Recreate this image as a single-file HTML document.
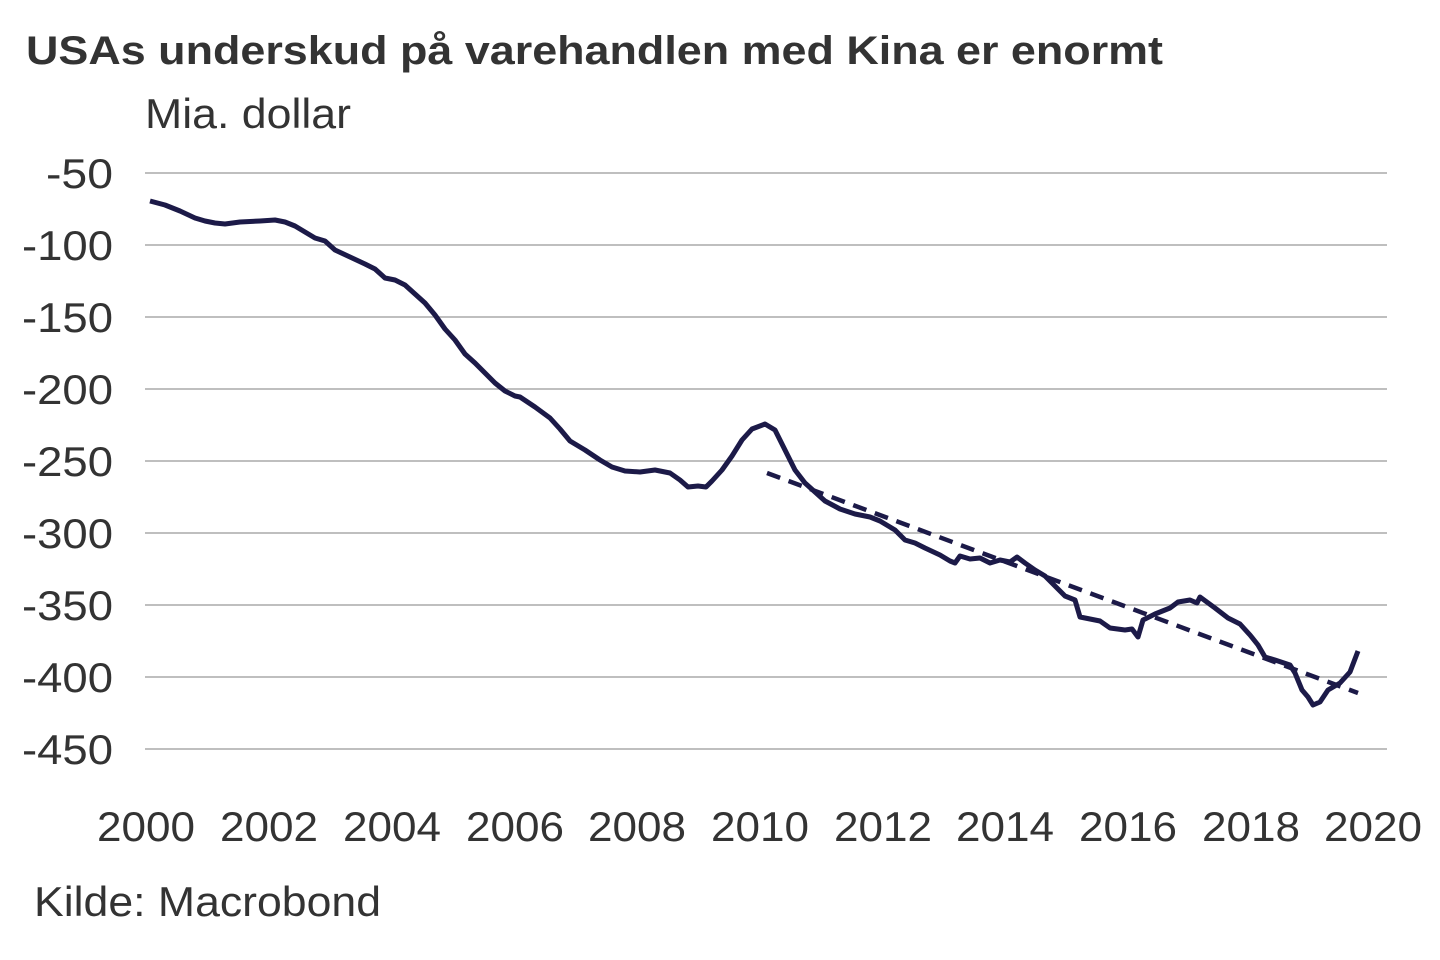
<!DOCTYPE html>
<html><head><meta charset="utf-8"><style>
body{margin:0;background:#fff;}
svg{display:block;font-family:"Liberation Sans",Arial,sans-serif;}
</style></head><body>
<svg width="1440" height="960" viewBox="0 0 1440 960">
<text x="26" y="64" font-size="40" font-weight="bold" fill="#333" textLength="1137" lengthAdjust="spacingAndGlyphs">USAs underskud på varehandlen med Kina er enormt</text>
<text x="145" y="128" font-size="42" fill="#333" textLength="206" lengthAdjust="spacingAndGlyphs">Mia. dollar</text>
<g stroke="#999" stroke-width="1.3">
<line x1="145" x2="1387" y1="173" y2="173"/><line x1="145" x2="1387" y1="245" y2="245"/>
<line x1="145" x2="1387" y1="317" y2="317"/><line x1="145" x2="1387" y1="389" y2="389"/>
<line x1="145" x2="1387" y1="461" y2="461"/><line x1="145" x2="1387" y1="533" y2="533"/>
<line x1="145" x2="1387" y1="605" y2="605"/><line x1="145" x2="1387" y1="677" y2="677"/>
<line x1="145" x2="1387" y1="749" y2="749"/>
</g>
<g font-size="42" fill="#333" text-anchor="end" lengthAdjust="spacingAndGlyphs">
<text x="113" y="188" textLength="67" lengthAdjust="spacingAndGlyphs">-50</text>
<text x="113" y="260" textLength="91" lengthAdjust="spacingAndGlyphs">-100</text>
<text x="113" y="332" textLength="91" lengthAdjust="spacingAndGlyphs">-150</text>
<text x="113" y="404" textLength="91" lengthAdjust="spacingAndGlyphs">-200</text>
<text x="113" y="476" textLength="91" lengthAdjust="spacingAndGlyphs">-250</text>
<text x="113" y="548" textLength="91" lengthAdjust="spacingAndGlyphs">-300</text>
<text x="113" y="620" textLength="91" lengthAdjust="spacingAndGlyphs">-350</text>
<text x="113" y="692" textLength="91" lengthAdjust="spacingAndGlyphs">-400</text>
<text x="113" y="764" textLength="91" lengthAdjust="spacingAndGlyphs">-450</text>
</g>
<g font-size="42" fill="#333" text-anchor="middle">
<text x="146" y="841" textLength="98" lengthAdjust="spacingAndGlyphs">2000</text>
<text x="269" y="841" textLength="98" lengthAdjust="spacingAndGlyphs">2002</text>
<text x="392" y="841" textLength="98" lengthAdjust="spacingAndGlyphs">2004</text>
<text x="515" y="841" textLength="98" lengthAdjust="spacingAndGlyphs">2006</text>
<text x="637" y="841" textLength="98" lengthAdjust="spacingAndGlyphs">2008</text>
<text x="760" y="841" textLength="98" lengthAdjust="spacingAndGlyphs">2010</text>
<text x="883" y="841" textLength="98" lengthAdjust="spacingAndGlyphs">2012</text>
<text x="1005" y="841" textLength="98" lengthAdjust="spacingAndGlyphs">2014</text>
<text x="1128" y="841" textLength="98" lengthAdjust="spacingAndGlyphs">2016</text>
<text x="1251" y="841" textLength="98" lengthAdjust="spacingAndGlyphs">2018</text>
<text x="1373" y="841" textLength="98" lengthAdjust="spacingAndGlyphs">2020</text>
</g>
<text x="34" y="916" font-size="42" fill="#333" textLength="347" lengthAdjust="spacingAndGlyphs">Kilde: Macrobond</text>
<line x1="767" y1="473" x2="1358" y2="693" stroke="#1c1a48" stroke-width="4.5" stroke-dasharray="14,9"/>
<polyline fill="none" stroke="#1c1a48" stroke-width="5" stroke-linejoin="round" points="150,201 165,205 180,211 195,218 205,221 215,223 225,224 240,222 260,221 275,220 285,222 295,226 305,232 315,238 325,241 335,250 350,257 365,264 375,269 385,278 395,280 405,285 415,294 425,303 435,315 445,329 455,340 465,354 475,363 485,373 495,383 505,391 515,396 520,397 535,407 550,418 560,429 570,441 585,450 600,460 612,467 625,471 640,472 655,470 670,473 680,480 688,487 698,486 706,487 712,481 722,470 732,456 742,440 752,429 765,424 775,430 785,450 795,470 805,483 815,492 825,501 840,509 855,514 870,517 880,521 895,530 905,540 915,543 925,548 940,555 950,561 955,563 960,556 970,559 980,558 990,563 1000,560 1010,562 1017,557 1025,563 1035,570 1045,576 1055,586 1065,596 1075,600 1080,617 1090,619 1100,621 1110,628 1125,630 1132,629 1138,637 1143,620 1155,614 1170,608 1178,602 1190,600 1197,603 1200,597 1215,608 1228,618 1240,624 1250,635 1258,645 1265,657 1275,660 1290,665 1295,673 1302,690 1308,697 1313,705 1320,702 1328,690 1340,683 1350,672 1358,651"/>
</svg>
</body></html>
